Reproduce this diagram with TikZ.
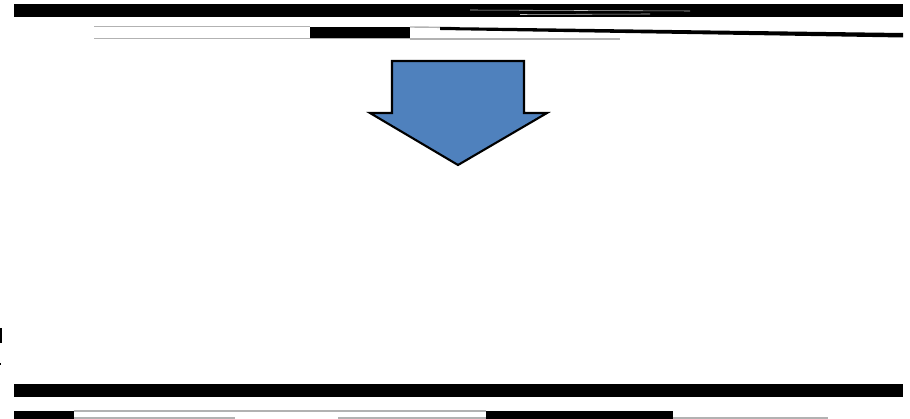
\documentclass[tikz,border=0pt]{standalone}
\usepackage{tikz}
\definecolor{arrowblue}{RGB}{79,129,189}
\tikzset{
  bar/.style={fill=black, draw=none},
  rule/.style={draw=gray!60, line width=1pt},
  streak/.style={draw=gray!50, line width=0.4pt},
  bigarrow/.style={fill=arrowblue, draw=black, line width=1.5pt, line join=miter}
}
\begin{document}
\begin{tikzpicture}[x=0.025cm, y=-0.025cm]
  \useasboundingbox (0,0) rectangle (910,419);
  % top band
  \fill[bar] (14,4.5) rectangle (903,17);
  \draw[streak] (470,10) -- (690,11);
  \draw[streak] (520,14.5) -- (650,14);
  % second row
  \draw[rule] (94,26.5) -- (310,26.5);
  \draw[rule] (94,38.5) -- (410,38.5);
  \fill[bar] (310,27) rectangle (410,38);
  \draw[rule] (410,27) -- (455,27.5);
  \fill[bar] (440,27) -- (903,33) -- (903,37.5) -- (440,30) -- cycle;
  \draw[rule] (410,39) -- (620,39);
  % down arrow
  \draw[bigarrow] (392,61) -- (524,61) -- (524,113) -- (547,113)
    -- (458,165) -- (370,113) -- (392,113) -- cycle;
  % left marks
  \fill[bar] (0,328) rectangle (2,343);
  \fill[bar] (0,363) rectangle (1.5,365);
  % bottom band
  \fill[bar] (14,384) rectangle (903,397);
  % last row
  \fill[bar] (14,411) rectangle (74,419);
  \draw[rule] (74,411) -- (486,411);
  \draw[rule] (74,418) -- (235,418);
  \draw[rule] (338,418) -- (486,418);
  \fill[bar] (486,411) rectangle (673,419);
  \draw[rule] (673,418) -- (828,418);
\end{tikzpicture}
\end{document}
